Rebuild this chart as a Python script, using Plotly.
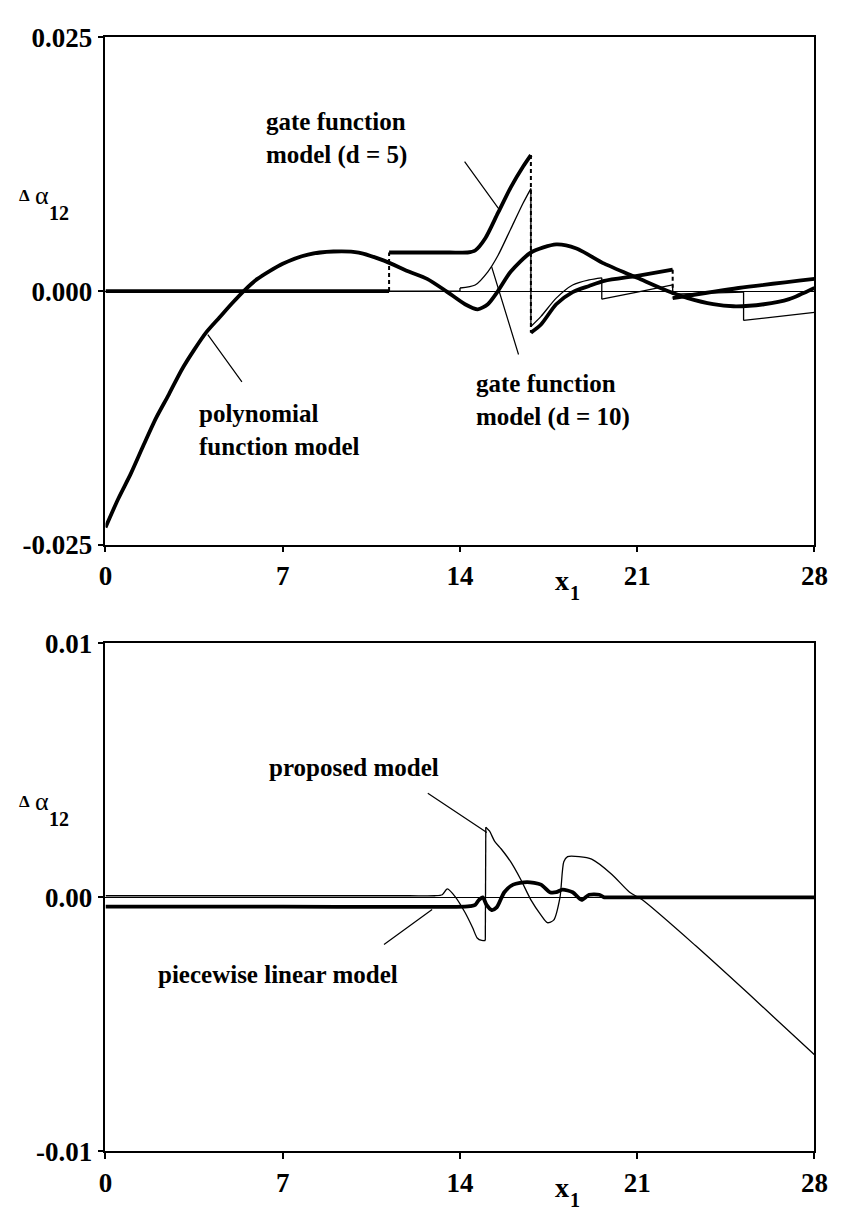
import plotly.graph_objects as go

# ---------------- data ----------------
x_ticks = [0, 7, 14, 21, 28]
x_tick_labels = ["0", "7", "14", "21", "28"]
top_y_ticks = [-0.025, 0.0, 0.025]
top_y_tick_labels = ["-0.025", "0.000", "0.025"]
bot_y_ticks = [-0.01, 0.0, 0.01]
bot_y_tick_labels = ["-0.01", "0.00", "0.01"]

# polynomial function model (top panel, thick)
poly_x = [0, 0.5, 1, 1.5, 2, 2.5, 3, 3.5, 4, 4.5, 5, 5.5, 6, 7, 8, 9, 10, 11, 12,
          12.7, 13.45, 14.2, 14.7, 15.1, 15.5, 16.0, 16.8, 17.8, 18.6, 19.7, 21.0,
          22.2, 23, 24, 24.8, 26, 27, 28]
poly_y = [-0.0233, -0.0205, -0.0180, -0.0152, -0.0125, -0.0102, -0.0078, -0.0058,
          -0.0040, -0.0026, -0.0012, 0.0001, 0.0012, 0.0027, 0.0036, 0.0039, 0.0038,
          0.0030, 0.0019, 0.0012, 0.0, -0.0013, -0.0018, -0.0013, 0.0, 0.0019,
          0.0038, 0.0046, 0.0042, 0.0027, 0.0013, 0.0, -0.0007, -0.0013, -0.0015,
          -0.0013, -0.0008, 0.0003]

# gate function model d = 5 (thick, one segment per gate)
gate5_x = [[0, 11.2],
           [11.2, 12.5, 13.6, 14.3, 14.6, 15.0, 15.5, 16.0, 16.5, 16.8],
           [16.8, 17.2, 17.8, 18.45, 19.1, 19.7, 21.0, 22.4],
           [22.4, 25.0, 28]]
gate5_y = [[0.0, 0.0],
           [0.0038, 0.0038, 0.0038, 0.0038, 0.0040, 0.0052, 0.0077, 0.0102, 0.0123, 0.0134],
           [-0.0041, -0.0033, -0.0013, -0.0001, 0.0005, 0.0010, 0.0015, 0.0021],
           [-0.0007, 0.0003, 0.0012]]

# gate function model d = 10 (thin, one segment per gate)
gate10_x = [[0, 14],
            [14, 14.6, 15.1, 15.5, 16.0, 16.5, 16.8],
            [16.8, 17.2, 17.8, 18.45, 19.1, 19.6],
            [19.6, 21.0, 22.4],
            [22.4, 25.2],
            [25.2, 28]]
gate10_y = [[0.0, 0.0],
            [0.0003, 0.0006, 0.0019, 0.0035, 0.0061, 0.0087, 0.0101],
            [-0.0035, -0.0025, -0.0007, 0.0006, 0.0011, 0.0013],
            [-0.0008, -0.0001, 0.0006],
            [-0.0003, -0.0001],
            [-0.0029, -0.0021]]

# proposed model (bottom panel, thin): before and after the jump at x1 ~ 15
prop_x = [[0, 4, 8, 12, 13.0, 13.3, 13.5, 13.83, 14.2, 14.5, 14.68, 14.86, 15.0],
          [15.02, 15.17, 15.37, 15.63, 16.0, 16.4, 16.8, 17.2, 17.45, 17.7, 17.95,
           18.1, 18.25, 18.7, 19.2, 20.0, 20.7, 21.2, 23.3, 25.4, 28]]
prop_y = [[0.00006, 0.00006, 0.00006, 0.00006, 0.00006, 0.0001, 0.00033, 0.0, -0.0006,
           -0.0012, -0.0016, -0.0017, -0.0017],
          [0.00276, 0.0026, 0.0022, 0.0019, 0.0014, 0.0007, -0.0001, -0.0007, -0.0010,
           -0.0009, 0.0, 0.0014, 0.0016, 0.0016, 0.0015, 0.0009, 0.0002, -0.0001,
           -0.0019, -0.0038, -0.0062]]

# piecewise linear model (bottom panel, thick)
pwl_x = [0, 7, 14.2, 14.4, 14.6, 14.75, 14.9, 15.05, 15.25, 15.45, 15.75, 16.1, 16.65,
         17.2, 17.55, 17.8, 18.05, 18.45, 18.8, 19.1, 19.5, 19.7, 20.0, 24, 28]
pwl_y = [-0.00037, -0.00037, -0.00037, -0.00035, -0.0003, -0.0001, 0.0, -0.0003,
         -0.0005, -0.0004, 0.0002, 0.0005, 0.0006, 0.0005, 0.0002, 0.0002, 0.0003,
         0.0002, -0.0001, 0.0001, 0.0001, 0.0, 0.0, 0.0, 0.0]

# callout pointer lines: (text-end x, y) -> (curve x, y)
top_pointers = [((14.14, 0.0129), (15.56, 0.0080)),    # gate d=5
                ((16.33, -0.0064), (15.25, 0.0024)),   # gate d=10
                ((5.43, -0.0091), (4.04, -0.0043))]    # polynomial
bot_pointers = [((12.67, 0.00413), (15.06, 0.00255)),  # proposed
                ((10.94, -0.0019), (12.9, -0.00048))]  # piecewise linear

# ---------------- layout geometry ----------------
W, H = 847, 1222
XL, XR = 101, 828
YT1, YB1 = 23, 543
YT2, YB2 = 644, 1165
FONT = "Liberation Serif"
THICK, THIN = 3.8, 1.3


def px(x):
    return x / W


def py(y):
    return 1 - y / H


fig = go.Figure()


def line(x, y, width, xa, ya, dash=None, smooth=True):
    fig.add_trace(go.Scatter(x=x, y=y, mode="lines",
                             line=dict(color="black", width=width, dash=dash,
                                       shape="spline" if smooth else "linear",
                                       smoothing=0.7 if smooth else None),
                             xaxis=xa, yaxis=ya, hoverinfo="skip"))


def segmented(xs, ys, width, xa, ya, jump_dash=None, jump_width=None):
    for sx, sy in zip(xs, ys):
        line(sx, sy, width, xa, ya)
    for i in range(len(xs) - 1):
        line([xs[i][-1], xs[i + 1][0]], [ys[i][-1], ys[i + 1][0]],
             jump_width or width, xa, ya, dash=jump_dash, smooth=False)


# top panel
line(poly_x, poly_y, THICK, "x", "y")
segmented(gate5_x, gate5_y, THICK, "x", "y", jump_dash="4px,3px", jump_width=2)
segmented(gate10_x, gate10_y, THIN, "x", "y")

# bottom panel
line(pwl_x, pwl_y, THICK, "x2", "y2")
segmented(prop_x, prop_y, THIN, "x2", "y2")

annotations = []
for (a, b) in top_pointers:
    annotations.append(dict(x=b[0], y=b[1], ax=a[0], ay=a[1], xref="x", yref="y",
                            axref="x", ayref="y", text="", showarrow=True,
                            arrowhead=0, arrowwidth=1.2, arrowcolor="black"))
for (a, b) in bot_pointers:
    annotations.append(dict(x=b[0], y=b[1], ax=a[0], ay=a[1], xref="x2", yref="y2",
                            axref="x2", ayref="y2", text="", showarrow=True,
                            arrowhead=0, arrowwidth=1.2, arrowcolor="black"))


def label(text, x, y, size=25, anchor="left", weight="bold", style="normal"):
    annotations.append(dict(text=text, x=px(x), y=py(y), xref="paper", yref="paper",
                            xanchor=anchor, yanchor="middle", showarrow=False,
                            align="left",
                            font=dict(family=FONT, size=size, color="black",
                                      weight=weight, style=style)))


label("gate function<br>model (d = 5)", 264, 127)
label("gate function<br>model (d = 10)", 479, 395)
label("polynomial<br>function model", 195, 425)
label("proposed model", 267, 771)
label("piecewise linear model", 153, 984)

# y-axis titles
for zero_y in (283, 904):
    label("Δ", 17.5, zero_y - 98, size=17, anchor="center")
    label("α", 36, zero_y - 98, size=26, anchor="center", weight="normal")
    label("12", 53, zero_y - 80, size=20, anchor="center")
# x-axis titles
for base in (YB1, YB2):
    label("x", 569, base + 37, size=28, anchor="center")
    label("1", 582, base + 50, size=20, anchor="center")

axis_common = dict(showline=True, mirror=True, linecolor="black", linewidth=1.5,
                   ticks="outside", ticklen=6, tickwidth=1.5, tickcolor="black",
                   showgrid=False,
                   tickfont=dict(family=FONT, size=27, color="black", weight="bold"))

fig.update_layout(
    width=W, height=H, margin=dict(l=0, r=0, t=0, b=0),
    paper_bgcolor="white", plot_bgcolor="white", showlegend=False,
    xaxis=dict(domain=[px(XL), px(XR)], range=[0, 28], anchor="y",
               tickvals=x_ticks, ticktext=x_tick_labels, zeroline=False, **axis_common),
    yaxis=dict(domain=[py(YB1), py(YT1)], range=[-0.025, 0.025], anchor="x",
               tickvals=top_y_ticks, ticktext=top_y_tick_labels,
               zeroline=True, zerolinecolor="black", zerolinewidth=1.3, **axis_common),
    xaxis2=dict(domain=[px(XL), px(XR)], range=[0, 28], anchor="y2",
                tickvals=x_ticks, ticktext=x_tick_labels, zeroline=False, **axis_common),
    yaxis2=dict(domain=[py(YB2), py(YT2)], range=[-0.01, 0.01], anchor="x2",
                tickvals=bot_y_ticks, ticktext=bot_y_tick_labels,
                zeroline=True, zerolinecolor="black", zerolinewidth=1.3, **axis_common),
    annotations=annotations,
)

fig.write_html("out.html")
